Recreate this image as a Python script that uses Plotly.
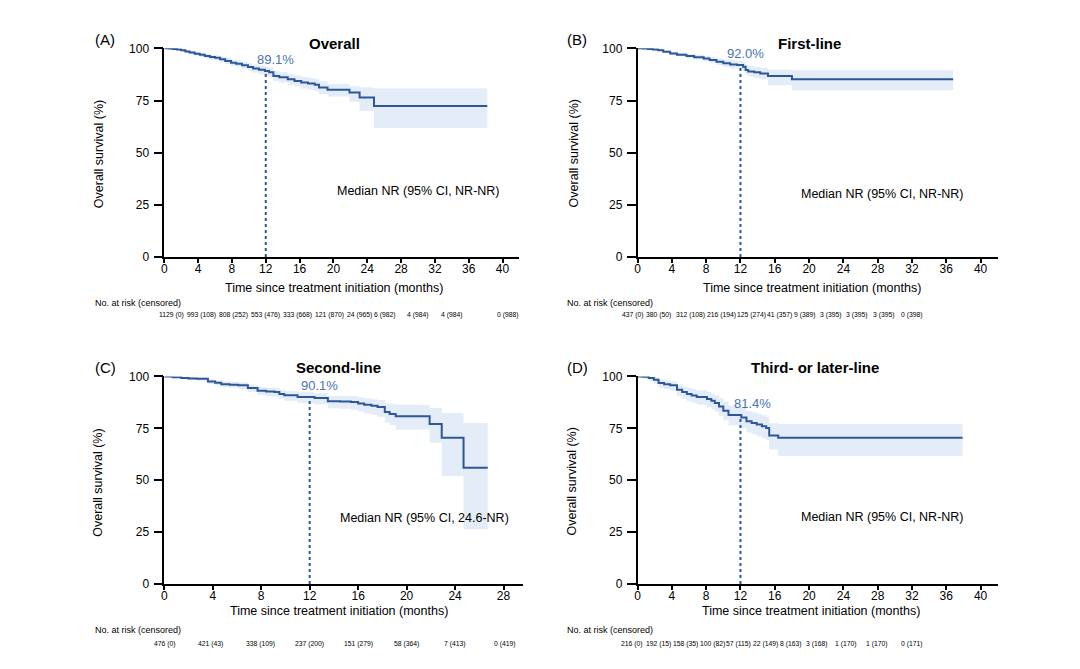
import plotly.graph_objects as go

# ---------------- data ----------------
# Panel A - Overall
months_A = [0, 0.5, 1.0, 1.5, 2.0, 2.5, 3.0, 3.6, 4.2, 4.8, 5.4, 6.0, 6.6, 7.2, 7.9, 8.5, 9.2, 9.9,
            10.5, 11.2, 11.9, 12.4, 12.9, 13.6, 14.6, 15.4, 16.2, 17.0, 17.8, 18.3, 19.3, 21.9, 23.1, 24.8, 38.2]
surv_A = [100, 99.9, 99.7, 99.4, 99.1, 98.5, 98.0, 97.4, 96.9, 96.3, 95.9, 95.5, 94.8, 94.0, 93.1, 92.6, 91.9, 91.1,
          90.4, 89.7, 89.1, 88.6, 86.8, 86.1, 85.2, 84.4, 83.6, 83.1, 82.5, 81.2, 80.2, 78.8, 76.4, 72.4, 72.4]
ci_lo_A = [100, 99.7, 99.4, 99.0, 98.5, 97.8, 97.2, 96.5, 95.9, 95.2, 94.7, 94.2, 93.4, 92.5, 91.5, 90.9, 90.1, 89.2,
           88.4, 87.6, 86.9, 86.3, 84.4, 83.6, 82.6, 81.7, 80.8, 80.2, 79.5, 78.1, 76.9, 74.4, 70.0, 61.8, 61.8]
ci_hi_A = [100, 100, 99.9, 99.7, 99.5, 99.1, 98.7, 98.2, 97.8, 97.3, 97.0, 96.7, 96.1, 95.4, 94.6, 94.2, 93.6, 92.9,
           92.3, 91.7, 91.2, 90.8, 89.1, 88.5, 87.7, 87.0, 86.3, 85.9, 85.4, 84.2, 82.9, 81.8, 81.2, 80.8, 80.8]

# Panel B - First-line
months_B = [0, 0.6, 1.2, 1.8, 2.4, 3.0, 3.8, 4.6, 5.7, 6.6, 7.7, 8.4, 9.2, 10.0, 10.8, 11.6, 12.3, 12.6,
            12.9, 13.6, 14.3, 15.2, 18.0, 36.8]
surv_B = [100, 99.9, 99.7, 99.5, 99.1, 98.4, 97.6, 97.0, 96.3, 95.8, 95.2, 94.4, 93.6, 92.9, 92.3, 92.0, 91.2, 89.6,
          88.9, 88.5, 87.9, 86.8, 85.2, 85.2]
ci_lo_B = [100, 99.8, 99.5, 99.2, 98.7, 97.9, 96.9, 96.2, 95.3, 94.7, 93.9, 93.0, 92.0, 91.1, 90.3, 89.9, 89.0, 87.3,
           86.5, 85.9, 85.2, 82.3, 79.9, 79.9]
ci_hi_B = [100, 100, 99.9, 99.8, 99.5, 99.0, 98.4, 97.9, 97.3, 96.9, 96.5, 95.8, 95.2, 94.7, 94.3, 94.1, 93.4, 92.0,
           91.4, 91.1, 90.6, 89.8, 89.5, 89.5]

# Panel C - Second-line
months_C = [0, 0.7, 1.4, 2.0, 2.7, 3.6, 4.2, 4.7, 5.4, 6.1, 6.9, 7.7, 8.4, 9.1, 9.5, 9.9, 11.0, 12.4, 13.5, 14.5,
            15.4, 16.0, 16.5, 17.1, 17.6, 18.2, 18.6, 19.1, 21.9, 22.9, 24.7, 26.7]
surv_C = [100, 99.6, 99.2, 99.0, 98.9, 97.6, 97.0, 96.3, 96.0, 95.7, 94.4, 93.1, 92.8, 92.5, 91.6, 90.9, 90.1, 89.6,
          88.0, 87.9, 87.7, 87.0, 86.4, 85.9, 85.3, 82.9, 81.9, 80.8, 77.1, 70.4, 56.0, 56.0]
ci_lo_C = [100, 99.2, 98.6, 98.3, 98.0, 96.5, 95.7, 94.9, 94.5, 94.0, 92.6, 91.1, 90.6, 90.2, 89.2, 88.3, 87.2, 86.6,
           84.7, 84.4, 84.0, 83.1, 82.2, 81.5, 80.6, 77.8, 76.6, 74.4, 68.0, 52.0, 26.4, 26.4]
ci_hi_C = [100, 100, 99.8, 99.6, 99.5, 98.6, 98.1, 97.6, 97.4, 97.1, 96.0, 94.9, 94.6, 94.4, 93.6, 93.0, 92.4, 91.9,
           90.6, 90.6, 90.5, 89.9, 89.5, 89.0, 88.6, 87.0, 86.8, 86.4, 84.8, 82.4, 77.6, 77.6]

# Panel D - Third- or later-line
months_D = [0, 0.6, 1.3, 1.9, 2.45, 3.1, 3.8, 4.6, 5.2, 5.75, 6.3, 6.9, 8.1, 8.6, 9.0, 9.5, 10.0, 10.6, 12.1,
            12.7, 13.3, 13.9, 14.5, 15.0, 15.35, 16.4, 37.9]
surv_D = [100, 99.8, 99.2, 98.4, 96.8, 96.3, 95.7, 93.6, 92.5, 91.5, 90.8, 90.1, 89.1, 88.3, 87.2, 85.5, 83.5, 81.4,
          80.2, 78.4, 77.6, 76.8, 76.0, 75.2, 71.5, 70.4, 70.4]
ci_lo_D = [100, 99.0, 97.8, 96.6, 94.6, 93.9, 93.1, 90.6, 89.3, 88.1, 87.3, 86.4, 85.2, 84.2, 83.0, 81.1, 78.9, 76.5,
           75.1, 73.1, 72.2, 71.2, 70.3, 69.4, 64.8, 61.6, 61.6]
ci_hi_D = [100, 100, 99.9, 99.6, 98.5, 98.1, 97.6, 96.0, 95.2, 94.4, 93.8, 93.3, 92.5, 91.8, 90.9, 89.5, 87.8, 86.0,
           85.0, 83.4, 82.7, 82.0, 81.3, 80.6, 77.5, 77.1, 77.1]

# 12-month OS estimates
os12_A, os12_B, os12_C, os12_D = 89.1, 92.0, 90.1, 81.4

# Number at risk (censored)
atrisk_A = [1129, 993, 808, 553, 333, 121, 24, 6, 4, 4, 0]
cens_A = [0, 108, 252, 476, 668, 870, 965, 982, 984, 984, 988]
atrisk_B = [437, 380, 312, 216, 125, 41, 9, 3, 3, 3, 0]
cens_B = [0, 50, 108, 194, 274, 357, 389, 395, 395, 395, 398]
atrisk_C = [476, 421, 338, 237, 151, 58, 7, 0]
cens_C = [0, 43, 109, 200, 279, 364, 413, 419]
atrisk_D = [216, 192, 158, 100, 57, 22, 8, 3, 1, 1, 0]
cens_D = [0, 15, 35, 82, 115, 149, 163, 168, 170, 170, 171]

titles = ["Overall", "First-line", "Second-line", "Third- or later-line"]
letters = ["(A)", "(B)", "(C)", "(D)"]
medians = ["Median NR (95% CI, NR-NR)", "Median NR (95% CI, NR-NR)",
           "Median NR (95% CI, 24.6-NR)", "Median NR (95% CI, NR-NR)"]
x_ticks_long = list(range(0, 41, 4))
x_ticks_short = list(range(0, 29, 4))
y_ticks = [0, 25, 50, 75, 100]

# ---------------- layout constants (target pixels) ----------------
W, H = 1080, 669
DX, DY, SY = 9.0, 13.8, 0.983   # page offset / scale compensation


def px(x):
    return (x - DX) / W


def py(y):
    return (H - (y - DY) / SY) / H


CURVE = "#2c579a"
BAND = "#e3ecf7"
LABEL = "#4a74b4"
FONT = "Liberation Sans, Arial, sans-serif"

panels = [
    dict(t=months_A, s=surv_A, lo=ci_lo_A, hi=ci_hi_A, s12=os12_A, n=atrisk_A, c=cens_A,
         x0=162.7, ppm=8.48, xmax=42, ticks=x_ticks_long, ytop=47.3, ybot=256.7,
         letter_xy=(91.5, 38), title_xy=(333.5, 42.5), med_xy=(334, 190.7), xt_xy=(333, 288),
         yt_xy=(97.3, 153.5), risk_lbl=(91.7, 303), risk_y=315.5, lab_dx=10,
         risk_x=[170, 200, 232, 264, 296, 328, 358, 384, 417, 451, 507]),
    dict(t=months_B, s=surv_B, lo=ci_lo_B, hi=ci_hi_B, s12=os12_B, n=atrisk_B, c=cens_B,
         x0=637.3, ppm=8.6, xmax=42, ticks=x_ticks_long, ytop=47.3, ybot=256.7,
         letter_xy=(564.5, 38.3), title_xy=(809.5, 42.2), med_xy=(799, 193.3), xt_xy=(812, 288),
         yt_xy=(573.3, 153), risk_lbl=(565, 303), risk_y=315.5, lab_dx=5,
         risk_x=[632.5, 658.5, 690, 721, 752, 780, 805, 831, 857, 884, 913]),
    dict(t=months_C, s=surv_C, lo=ci_lo_C, hi=ci_hi_C, s12=os12_C, n=atrisk_C, c=cens_C,
         x0=162.7, ppm=12.15, xmax=29.6, ticks=x_ticks_short, ytop=376.7, ybot=585,
         letter_xy=(91.5, 367.7), title_xy=(337, 367.7), med_xy=(337, 519), xt_xy=(337.5, 612),
         yt_xy=(96.7, 483), risk_lbl=(91.7, 631.5), risk_y=645.5, lab_dx=9.5,
         risk_x=[163, 209, 259, 308, 357, 406, 454, 504]),
    dict(t=months_D, s=surv_D, lo=ci_lo_D, hi=ci_hi_D, s12=os12_D, n=atrisk_D, c=cens_D,
         x0=637.3, ppm=8.6, xmax=42, ticks=x_ticks_long, ytop=376.7, ybot=585,
         letter_xy=(565, 368), title_xy=(815, 367.3), med_xy=(799, 518), xt_xy=(811, 612),
         yt_xy=(571.7, 482), risk_lbl=(565, 631.5), risk_y=645.5, lab_dx=12,
         risk_x=[632, 658, 685, 712, 739, 766, 791, 817, 846, 877, 913]),
]

fig = go.Figure()
annotations = []
layout_axes = {}


def ann(text, xy, size, xanchor="center", bold=False, angle=0, color="black"):
    annotations.append(dict(
        text=("<b>%s</b>" % text) if bold else text, x=px(xy[0]), y=py(xy[1]),
        xref="paper", yref="paper", xanchor=xanchor, yanchor="middle", showarrow=False,
        textangle=angle, font=dict(size=size, color=color, family=FONT)))


for i, p in enumerate(panels):
    k = "" if i == 0 else str(i + 1)
    xa, ya = "x" + k, "y" + k
    # CI band
    fig.add_trace(go.Scatter(x=p["t"], y=p["lo"], mode="lines", line=dict(width=0, shape="hv"),
                             xaxis=xa, yaxis=ya, showlegend=False, hoverinfo="skip"))
    fig.add_trace(go.Scatter(x=p["t"], y=p["hi"], mode="lines", line=dict(width=0, shape="hv"),
                             fill="tonexty", fillcolor=BAND, xaxis=xa, yaxis=ya,
                             showlegend=False, hoverinfo="skip"))
    # KM curve
    fig.add_trace(go.Scatter(x=p["t"], y=p["s"], mode="lines", line=dict(color=CURVE, width=2, shape="hv"),
                             xaxis=xa, yaxis=ya, showlegend=False))
    # 12-month reference line
    fig.add_trace(go.Scatter(x=[12, 12], y=[0, p["s12"]], mode="lines",
                             line=dict(color=CURVE, width=2, dash="3px,3px"),
                             xaxis=xa, yaxis=ya, showlegend=False))

    x_end = p["x0"] + p["ppm"] * p["xmax"]
    layout_axes["xaxis" + k] = dict(
        domain=[px(p["x0"]), px(x_end)], range=[0, p["xmax"]], anchor=ya,
        tickvals=p["ticks"], ticks="outside", ticklen=4, tickwidth=1.5, tickcolor="black",
        ticklabelstandoff=-4,
        showline=True, linecolor="black", linewidth=1.5, showgrid=False, zeroline=False,
        tickfont=dict(size=12, color="black", family=FONT))
    layout_axes["yaxis" + k] = dict(
        domain=[py(p["ybot"]), py(p["ytop"])], range=[0, 100], anchor=xa,
        tickvals=y_ticks, ticks="outside", ticklen=9, tickwidth=1.5, tickcolor="black",
        ticklabelstandoff=2,
        showline=True, linecolor="black", linewidth=1.5, showgrid=False, zeroline=False,
        tickfont=dict(size=12, color="black", family=FONT))

    ann(letters[i], p["letter_xy"], 15, xanchor="left")
    ann(titles[i], p["title_xy"], 15, bold=True)
    ann(medians[i], p["med_xy"], 12.5, xanchor="left")
    ann("Time since treatment initiation (months)", p["xt_xy"], 12.5)
    ann("Overall survival (%)", p["yt_xy"], 12.5, angle=-90)
    ann("No. at risk (censored)", p["risk_lbl"], 9, xanchor="left")
    for n, c, rx in zip(p["n"], p["c"], p["risk_x"]):
        ann("%d (%d)" % (n, c), (rx, p["risk_y"]), 6.8)
    # 12-month label
    annotations.append(dict(text="%.1f%%" % p["s12"], x=12, y=p["s12"], xref=xa, yref=ya,
                            xanchor="center", yanchor="bottom", xshift=p["lab_dx"], yshift=2,
                            showarrow=False, font=dict(size=13, color=LABEL, family=FONT)))

fig.update_layout(width=W, height=H, autosize=False, margin=dict(l=0, r=0, t=0, b=0),
                  paper_bgcolor="white", plot_bgcolor="white", font=dict(family=FONT, color="black"),
                  annotations=annotations, showlegend=False, **layout_axes)

fig.write_html("out.html")
